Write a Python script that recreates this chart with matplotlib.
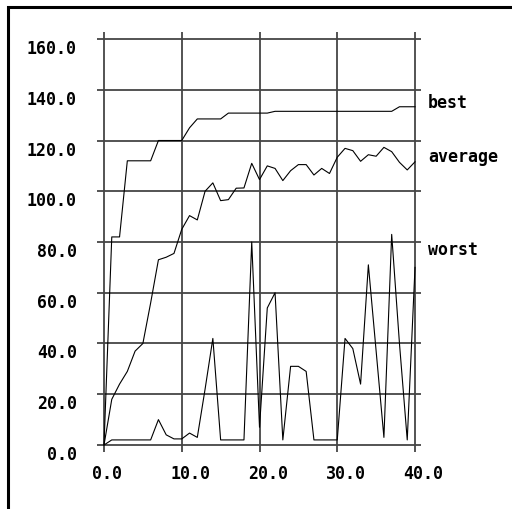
import matplotlib
matplotlib.use("Agg")
import matplotlib.pyplot as plt
import matplotlib.transforms as mtransforms
from matplotlib.lines import Line2D

# ---- data ----
generations = list(range(0, 41))
best = [0, 82, 82, 112, 112, 112, 112, 120, 120, 120,
        120, 125, 128.5, 128.5, 128.5, 128.5, 130.8, 130.8, 130.8, 130.8,
        130.8, 130.8, 131.5, 131.5, 131.5, 131.5, 131.5, 131.5, 131.5, 131.5,
        131.5, 131.5, 131.5, 131.5, 131.5, 131.5, 131.5, 131.5, 133.3, 133.3,
        133.3]
average = [0, 18, 24, 29, 37, 40, 56, 73, 74, 75.5,
           85, 90.4, 88.7, 100, 103.3, 96.3, 96.7, 101.2, 101.3, 111,
           104.6, 110, 109, 104.2, 108.1, 110.5, 110.5, 106.4, 109, 107,
           113.4, 116.9, 116, 111.8, 114.4, 113.8, 117.3, 115.6, 111.4, 108.4,
           111.6]
worst = [0, 2, 2, 2, 2, 2, 2, 10, 4, 2.4,
         2.4, 4.7, 3, 22, 42, 2, 2, 2, 2, 80,
         7, 54, 60, 2, 31, 31, 29, 2, 2, 2,
         2, 42, 38, 24, 71, 37, 3, 83, 40, 2,
         70]
series_names = ["best", "average", "worst"]
xticks = [0, 10, 20, 30, 40]
yticks = [0, 20, 40, 60, 80, 100, 120, 140, 160]

W, H = 512, 510
fig = plt.figure(figsize=(W / 100, H / 100), dpi=100)
fig.patch.set_facecolor("white")

ax_l, ax_r, ax_t, ax_b = 97, 421, 33, 453
ax = fig.add_axes([ax_l / W, (H - ax_b) / H, (ax_r - ax_l) / W, (ax_b - ax_t) / H])

font = dict(family="DejaVu Sans Mono", weight="bold", size=12)

for s in (best, average, worst):
    ax.plot(generations, s, color="black", lw=0.8, zorder=3)

ax.set_xlim(-0.9, 40.77)
ax.set_ylim(-2.76, 162.76)
ax.set_xticks(xticks)
ax.set_yticks(yticks)
ax.set_xticklabels([f"{v:.1f}" for v in xticks], fontdict=font)
ax.set_yticklabels([f"{v:.1f}" for v in yticks], fontdict=font)
ax.grid(True, color="#454545", linewidth=1.3, zorder=1)
ax.set_axisbelow(True)
for sp in ax.spines.values():
    sp.set_visible(False)
ax.tick_params(axis="both", length=0)
ax.tick_params(axis="y", pad=14.4)
ax.tick_params(axis="x", pad=8.6)

for lab in ax.get_yticklabels():
    lab.set_va("top")
off = mtransforms.ScaledTranslation(-11.5 / 100, 0, fig.dpi_scale_trans)
for lab in ax.get_xticklabels():
    lab.set_ha("left")
    lab.set_transform(lab.get_transform() + off)

label_y = [133.2, 112.0, 75.3]
for name, yv in zip(series_names, label_y):
    ax.text(41.67, yv, name, ha="left", va="baseline", clip_on=False, **font)

frame = Line2D([8 / W, 8 / W, 1.02], [-0.02, (H - 8) / H, (H - 8) / H],
               transform=fig.transFigure, color="black", lw=2.2,
               solid_joinstyle="miter")
fig.add_artist(frame)

fig.savefig("out.png", dpi=100)
